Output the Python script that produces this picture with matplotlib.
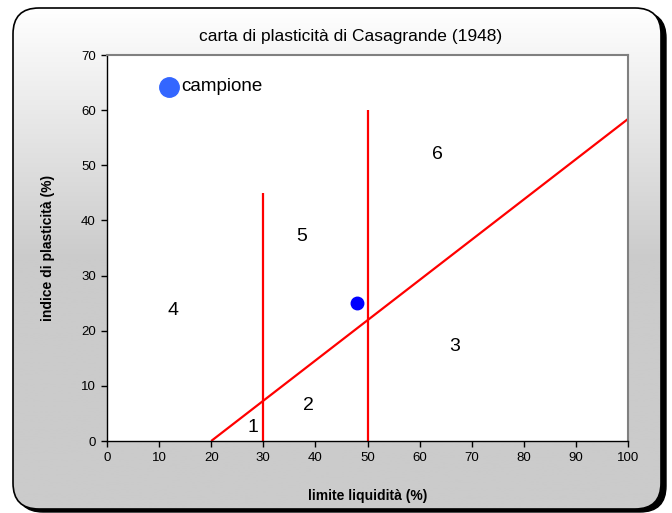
import numpy as np
import matplotlib
matplotlib.use("Agg")
import matplotlib.pyplot as plt
from matplotlib.patches import FancyBboxPatch

plt.rcParams['font.family'] = ['Liberation Sans', 'DejaVu Sans']

# A-line (Casagrande): IP = 0.73 (LL - 20)
aline_x = [20, 100]
aline_y = [0, 58.4]
# vertical limits
v30_x = [30, 30]
v30_y = [0, 45]
v50_x = [50, 50]
v50_y = [0, 60]
# sample
campione_x = [48]
campione_y = [25]
# zone labels
zone_labels = ['1', '2', '3', '4', '5', '6']
zone_x = [28, 38.6, 66.8, 12.7, 37.4, 63.5]
zone_y = [2.4, 6.5, 17.2, 23.6, 37.0, 51.9]

fig = plt.figure(figsize=(6.72, 5.13), dpi=100)
fig.patch.set_facecolor('white')

# background frame with gradient and shadow
bg = fig.add_axes([0, 0, 1, 1])
bg.set_xlim(0, 672)
bg.set_ylim(0, 513)
bg.axis('off')
shadow = FancyBboxPatch((17, 1), 649, 500, boxstyle="round,pad=0,rounding_size=26",
                        fc='black', ec='black', lw=1)
bg.add_patch(shadow)
frame = FancyBboxPatch((13, 4), 648, 501, boxstyle="round,pad=0,rounding_size=26",
                       fc='none', ec='black', lw=1.2, zorder=3)
bg.add_patch(frame)
grad = np.linspace(0, 1, 256).reshape(-1, 1)
img = bg.imshow(grad, extent=[13, 661, 4, 505], origin='lower',
                cmap=matplotlib.colors.LinearSegmentedColormap.from_list(
                    'g', ['#cbcbcb', '#cbcbcb', '#ffffff']),
                aspect='auto', zorder=2)
clip = FancyBboxPatch((13, 4), 648, 501, boxstyle="round,pad=0,rounding_size=26",
                      fc='none', ec='none', transform=bg.transData)
img.set_clip_path(clip)

ax = fig.add_axes([107 / 672, 72 / 513, 521 / 672, 386 / 513])
ax.set_facecolor('white')
ax.set_xlim(0, 100)
ax.set_ylim(0, 70)
ax.set_xticks(np.arange(0, 101, 10))
ax.set_yticks(np.arange(0, 71, 10))
for s in ax.spines.values():
    s.set_color('#808080')
    s.set_linewidth(1.5)
ax.spines['left'].set_color('black')
ax.spines['left'].set_linewidth(1)
ax.spines['bottom'].set_color('black')
ax.spines['bottom'].set_linewidth(1)
ax.tick_params(direction='out', length=4, width=1, colors='black', labelsize=9.5, pad=4)

ax.plot(aline_x, aline_y, color='red', lw=1.6, solid_capstyle='butt')
ax.plot(v30_x, v30_y, color='red', lw=1.6, solid_capstyle='butt')
ax.plot(v50_x, v50_y, color='red', lw=1.6, solid_capstyle='butt')
ax.plot(campione_x, campione_y, 'o', color='#0000ff', ms=9, zorder=5)

for lab, x, y in zip(zone_labels, zone_x, zone_y):
    ax.text(x, y, lab, fontsize=14, ha='center', va='center')

# legend
ax.plot([11.9], [64.2], 'o', color='#3366ff', ms=14, clip_on=False)
ax.text(14.2, 64.2, 'campione', fontsize=13.5, va='center', ha='left')

fig.text(351 / 672, 1 - 37 / 513, 'carta di plasticità di Casagrande (1948)',
         fontsize=12.5, ha='center', va='center')
ax.set_xlabel('limite liquidità (%)', fontsize=10, fontweight='bold', labelpad=18)
ax.set_ylabel('indice di plasticità (%)', fontsize=10, fontweight='bold', labelpad=19)

fig.savefig('out.png', dpi=100)
